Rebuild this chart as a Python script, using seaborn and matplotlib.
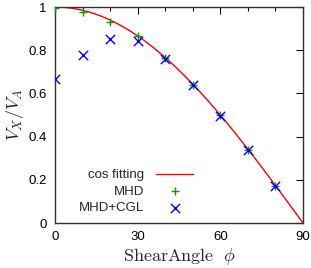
import numpy as np
import pandas as pd
import matplotlib
matplotlib.use("Agg")
import matplotlib.pyplot as plt
import seaborn as sns
from matplotlib.ticker import MultipleLocator

angles = [0, 10, 20, 30, 40, 50, 60, 70, 80]
mhd = [0.995, 0.975, 0.93, 0.865, 0.762, 0.638, 0.50, 0.34, 0.172]
cgl = [0.665, 0.778, 0.85, 0.842, 0.76, 0.638, 0.497, 0.338, 0.17]
fit_x = np.linspace(0, 90, 200)
fit_y = np.cos(np.radians(fit_x))

sns.set_theme(style="white")
plt.rcParams['font.family'] = ['Liberation Sans', 'DejaVu Sans']
plt.rcParams['mathtext.fontset'] = 'cm'

fig = plt.figure(figsize=(3.11, 2.68), dpi=100)
ax = fig.add_axes([55/311, 1 - 223/268, (303-55)/311, (223-7)/268])

sns.lineplot(x=fit_x, y=fit_y, ax=ax, color='#ff0000', lw=1.0, label='cos fitting')
sns.scatterplot(x=angles, y=mhd, ax=ax, marker='+', color='#009e00', s=40, linewidth=1.0, label='MHD', zorder=3)
sns.scatterplot(x=angles, y=cgl, ax=ax, marker='x', color='#0000ff', s=45, linewidth=1.0, label='MHD+CGL', zorder=4)

ax.set_xlim(0, 90)
ax.set_ylim(0, 1)
ax.xaxis.set_minor_locator(MultipleLocator(10))
ax.set_xticks([0, 30, 60, 90])
ax.set_xticklabels(['0', '30', '60', '90'])
ax.set_yticks([0, 0.2, 0.4, 0.6, 0.8, 1.0])
ax.set_yticklabels(['0', '0.2', '0.4', '0.6', '0.8', '1'])
ax.tick_params(which='both', direction='in', top=True, right=True, labelsize=9.5, colors='black', width=0.8)
ax.tick_params(which='major', length=5, pad=6)
ax.tick_params(which='minor', length=3)
for sp in ax.spines.values():
    sp.set_color('#333333')
    sp.set_linewidth(1.0)

ax.set_xlabel(r'$\mathrm{ShearAngle}\ \ \phi$', fontsize=13, labelpad=2)
ax.set_ylabel(r'$V_X/V_A$', fontsize=13, labelpad=2)

leg = ax.legend(loc='lower left', bbox_to_anchor=(0.05, -0.015), frameon=False, markerfirst=False,
                fontsize=9.5, handlelength=2.8, handletextpad=0.9, labelspacing=0.33)
for col in leg._legend_handle_box.get_children():
    col.align = 'right'

fig.savefig('out.png', dpi=100)
